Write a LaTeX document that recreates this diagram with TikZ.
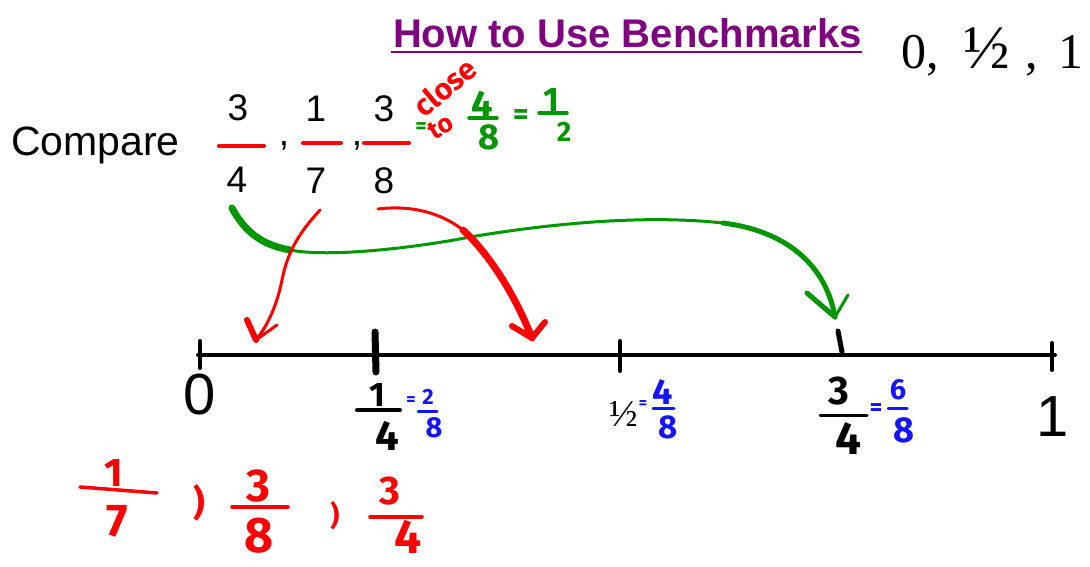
\documentclass[tikz,border=0pt]{standalone}
\usepackage{fontspec}
\setmainfont{Liberation Sans}
\newfontfamily\tms{Liberation Serif}
\newfontfamily\hand{Fira Sans}
\definecolor{tpurple}{RGB}{128,0,128}
\definecolor{hred}{RGB}{255,0,0}
\definecolor{hgreen}{RGB}{0,150,0}
\definecolor{hblue}{RGB}{20,20,255}
\newcommand{\myfs}[1]{\fontsize{#1}{#1}\selectfont}
\begin{document}
\begin{tikzpicture}[x=1pt,y=-1pt,
  txt/.style={inner sep=0pt,outer sep=0pt},
  hw/.style={inner sep=0pt,outer sep=0pt,font=\hand\bfseries\myfs{#1}},
  hw/.default=36,
  ink/.style={line cap=round,line join=round},
  bar/.style={ink,line width=4pt}]
\useasboundingbox[fill=white] (0,0) rectangle (1090,566);

% title
\node[txt,anchor=base west,text=tpurple,font=\bfseries\myfs{40}] (title) at (393,47) {How to Use Benchmarks};
\draw[tpurple,line width=2pt] (391,52) -- (862,52);
\node[txt,anchor=base west,font=\tms\myfs{50}] (b0) at (901,68) {0,};
\node[txt,anchor=base,font=\tms\myfs{62}] (bh) at (987,68) {½};
\node[txt,anchor=base,font=\tms\myfs{50}] (bc) at (1032,68) {,};
\node[txt,anchor=base,font=\tms\myfs{50}] (b1) at (1071,68) {1};

% compare
\node[txt,anchor=base west,font=\myfs{41}] (cmp) at (11,155) {Compare};
\node[txt,font=\myfs{37}] (n1) at (238,108) {3};
\node[txt,font=\myfs{37}] (d1) at (237,180) {4};
\draw[bar,hred] (219,146) -- (264,146);
\node[txt,anchor=base,font=\myfs{37}] (c1) at (284,145) {,};
\node[txt,font=\myfs{37}] (n2) at (316,109) {1};
\node[txt,font=\myfs{37}] (d2) at (316,181) {7};
\draw[bar,hred] (303,143) -- (341,143);
\node[txt,anchor=base,font=\myfs{37}] (c2) at (357,145) {,};
\node[txt,font=\myfs{37}] (n3) at (384,109) {3};
\node[txt,font=\myfs{37}] (d3) at (384,181) {8};
\draw[bar,hred] (364,143) -- (409,143);

% close to 4/8 = 1/2
\node[hw=22,text=hgreen] (geq) at (421,128) {=};
\node[hw=30,text=hred,rotate=40] (close) at (445,87) {close};
\node[hw=26,text=hred,rotate=30] (to) at (441,127) {to};
\node[hw=38,text=hgreen] (g4) at (482,104) {4};
\draw[bar,hgreen,line width=3.5pt] (469,118) -- (497,118);
\node[hw=36,text=hgreen] (g8) at (489,137) {8};
\node[hw=30,text=hgreen] (geq2) at (521,117) {=};
\node[hw=34,text=hgreen] (g1) at (551,100) {1};
\draw[bar,hgreen,line width=3.5pt] (539,113) -- (567,113);
\node[hw=28,text=hgreen] (g2) at (564,132) {2};

% number line
\draw[ink,line width=4pt] (198,355) -- (1055,355);
\draw[ink,line width=4pt] (200,341) -- (200,368);
\draw[ink,line width=7pt] (375,332) -- (376,372);
\draw[ink,line width=4pt] (620,341) -- (620,371);
\draw[ink,line width=5pt] (838,331) -- (842,352);
\draw[ink,line width=4pt] (1052,343) -- (1052,370);
\node[txt,font=\myfs{58}] (z) at (200,395) {0};
\node[txt,font=\myfs{58}] (one) at (1053,417) {1};

% 1/4 = 2/8
\node[hw=34] (q1) at (377,395) {1};
\draw[bar,line width=4pt] (357,410) -- (400,410);
\node[hw=42] (q4) at (387,436) {4};
\node[hw=18,text=hblue] (qe) at (411,401) {=};
\node[hw=22,text=hblue] (q2) at (428,397) {2};
\draw[bar,hblue,line width=3pt] (418,411) -- (437,411);
\node[hw=29,text=hblue] (q8) at (434,428) {8};

% 1/2 = 4/8
\node[txt,font=\tms\myfs{38}] (hh) at (624,414) {½};
\node[hw=16,text=hblue] (he) at (643,405) {=};
\node[hw=36,text=hblue] (h4) at (663,392) {4};
\draw[bar,hblue,line width=3pt] (653,408) -- (674,408);
\node[hw=33,text=hblue] (h8) at (668,427) {8};

% 3/4 = 6/8
\node[hw=40] (t3) at (839,391) {3};
\draw[bar,line width=3pt] (820,415) -- (867,415);
\node[hw=46] (t4) at (848,439) {4};
\node[hw=24,text=hblue] (te) at (876,410) {=};
\node[hw=29,text=hblue] (t6) at (898,390) {6};
\draw[bar,hblue,line width=3pt] (888,408) -- (907,408);
\node[hw=36,text=hblue] (t8) at (904,430) {8};

% arrows
\coordinate (gs) at (232,208);
\coordinate (gm) at (290,250);
\coordinate (gt) at (835,317);
\draw[ink,hgreen,line width=7pt] (gs) .. controls (245,232) and (262,245) .. (gm);
\draw[ink,hgreen,line width=3pt] (gm) .. controls (330,258) and (420,247) .. (470,237)
   .. controls (560,222) and (650,215) .. (723,223);
\draw[ink,hgreen,line width=5pt] (723,223) .. controls (780,230) and (825,260) .. (gt);
\draw[ink,hgreen,line width=5pt] (807,293) -- (gt);
\draw[ink,hgreen,line width=3pt] (gt) -- (848,295);

\coordinate (r1s) at (320,210);
\coordinate (r1t) at (256,340);
\draw[ink,hred,line width=3pt] (r1s) .. controls (300,232) and (288,250) .. (282,280)
   .. controls (277,305) and (268,325) .. (r1t);
\draw[ink,hred,line width=6pt] (247,320) -- (r1t);
\draw[ink,hred,line width=3pt] (r1t) -- (277,325);

\coordinate (r2s) at (378,209);
\coordinate (r2m) at (463,230);
\coordinate (r2t) at (532,338);
\draw[ink,hred,line width=3pt] (r2s) .. controls (410,205) and (440,212) .. (r2m);
\draw[ink,hred,line width=7pt] (r2m) .. controls (490,255) and (515,295) .. (r2t);
\draw[ink,hred,line width=6pt] (512,326) -- (r2t) -- (545,322);

% bottom answer
\node[hw=40,text=hred] (a1) at (114,473) {1};
\draw[bar,hred,line width=3.5pt] (80,487) -- (157,493);
\node[hw=46,text=hred] (a7) at (117,521) {7};
\node[hw=36,text=hred] (ac1) at (199,503) {)};
\node[hw=46,text=hred] (a3) at (258,486) {3};
\draw[bar,hred,line width=3.5pt] (232,507) -- (288,507);
\node[hw=50,text=hred] (a8) at (259,536) {8};
\node[hw=28,text=hred] (ac2) at (335,516) {)};
\node[hw=40,text=hred] (b3) at (390,491) {3};
\draw[bar,hred,line width=3.5pt] (370,517) -- (422,517);
\node[hw=48,text=hred] (b4) at (408,537) {4};
\end{tikzpicture}
\end{document}
